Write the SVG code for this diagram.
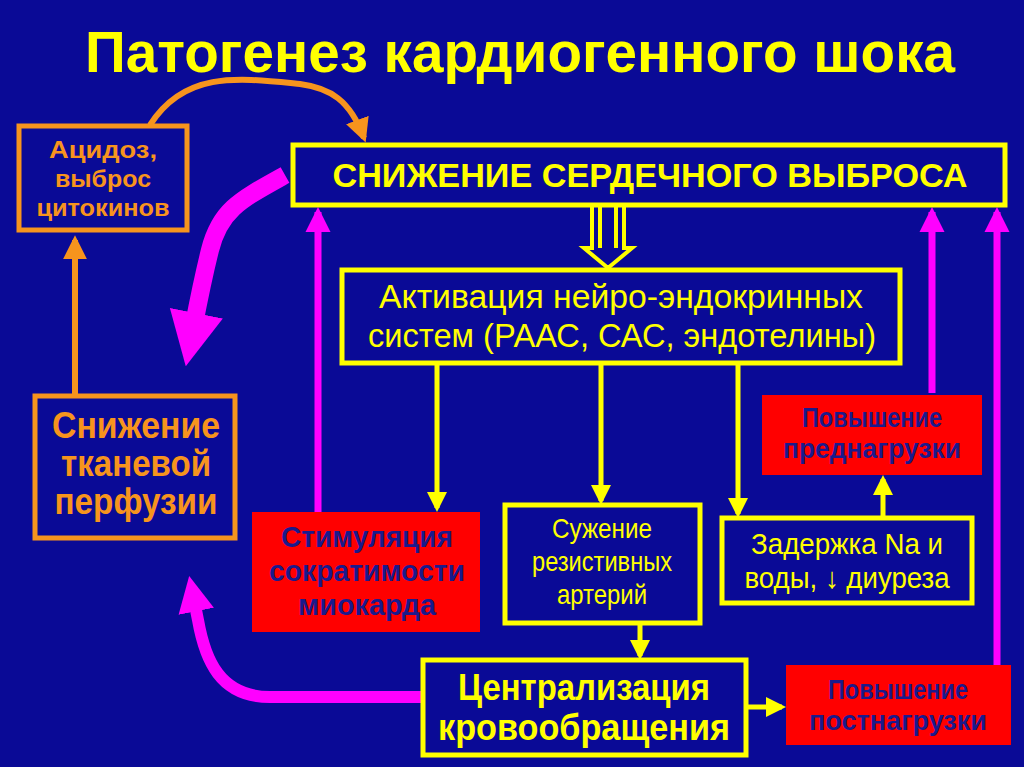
<svg xmlns="http://www.w3.org/2000/svg" width="1024" height="767" viewBox="0 0 1024 767">
<defs>
<style>
text{font-family:"Liberation Sans",Arial,sans-serif;text-anchor:middle}
.yb{fill:#0a0a96;stroke:#ffff00;stroke-width:5}
.ob{fill:#0a0a96;stroke:#f7941d;stroke-width:5}
.rb{fill:#ff0000}
.y{fill:#ffff00}
.o{fill:#f7941d;font-weight:bold}
.n{fill:#1a1a8c;font-weight:bold}
.ly{stroke:#ffff00;stroke-width:5;fill:none}
.lm{stroke:#ff00ff;fill:none}
.lo{stroke:#f7941d;stroke-width:6;fill:none}
</style>
<marker id="ay" viewBox="0 0 10 10" refX="8" refY="5" markerWidth="4" markerHeight="4" orient="auto" markerUnits="strokeWidth"><path d="M0,0 L10,5 L0,10 z" fill="#ffff00"/></marker>
<marker id="am" viewBox="0 0 10 10" refX="8" refY="5" markerWidth="3.6" markerHeight="3.6" orient="auto" markerUnits="strokeWidth"><path d="M0,0 L10,5 L0,10 z" fill="#ff00ff"/></marker>
<marker id="amb" viewBox="0 0 10 10" refX="6" refY="5" markerWidth="3" markerHeight="3.4" orient="auto" markerUnits="strokeWidth"><path d="M0,0 L10,5 L0,10 z" fill="#ff00ff"/></marker>
<marker id="ao" viewBox="0 0 10 10" refX="8" refY="5" markerWidth="4" markerHeight="4" orient="auto" markerUnits="strokeWidth"><path d="M0,0 L10,5 L0,10 z" fill="#f7941d"/></marker>
</defs>
<rect width="1024" height="767" fill="#0a0a96"/>
<text x="520" y="72" font-size="58" font-weight="bold" class="y" textLength="870" lengthAdjust="spacingAndGlyphs">Патогенез кардиогенного шока</text>

<g id="connectors">
<path class="lo" d="M150,125 C185,70 240,78 300,84 C330,88 350,100 364,138" marker-end="url(#ao)"/>
<path class="lo" d="M75,395 V240" marker-end="url(#ao)"/>
<path class="lm" stroke-width="18" d="M285,175 C240,200 220,210 210,250 C200,290 195,320 190,345" marker-end="url(#amb)"/>
<path class="lm" stroke-width="7" d="M318,512 V212" marker-end="url(#am)"/>
<path class="lm" stroke-width="7" d="M932,393 V212" marker-end="url(#am)"/>
<path class="lm" stroke-width="7" d="M997,665 V212" marker-end="url(#am)"/>
<path class="lm" stroke-width="12" d="M423,697 H270 C220,697 205,660 198,620 L192,590" marker-end="url(#amb)"/>
<path d="M592,205 V248 H584 L608,268 L632,248 H624 V205 M600,205 V248 M616,205 V248" fill="none" stroke="#ffff00" stroke-width="4"/>
<path class="ly" d="M437,363 V508" marker-end="url(#ay)"/>
<path class="ly" d="M601,363 V501" marker-end="url(#ay)"/>
<path class="ly" d="M738,363 V514" marker-end="url(#ay)"/>
<path class="ly" d="M883,518 V479" marker-end="url(#ay)"/>
<path class="ly" d="M640,623 V656" marker-end="url(#ay)"/>
<path class="ly" d="M746,707 H782" marker-end="url(#ay)"/>
</g>

<g id="acidosis"><rect class="ob" x="19" y="126" width="168" height="104"/>
<text class="o" font-size="24" x="103" y="158" textLength="108" lengthAdjust="spacingAndGlyphs">Ацидоз,</text><text class="o" font-size="24" x="103" y="187" textLength="96" lengthAdjust="spacingAndGlyphs">выброс</text><text class="o" font-size="24" x="103" y="216" textLength="133" lengthAdjust="spacingAndGlyphs">цитокинов</text></g>

<g id="co"><rect class="yb" x="293" y="145" width="712" height="60"/>
<text class="y" font-size="34" font-weight="bold" x="650" y="187" textLength="635" lengthAdjust="spacingAndGlyphs">СНИЖЕНИЕ СЕРДЕЧНОГО ВЫБРОСА</text></g>

<g id="activation"><rect class="yb" x="342" y="270" width="558" height="93"/>
<text class="y" font-size="33" x="621" y="308" textLength="484" lengthAdjust="spacingAndGlyphs">Активация нейро-эндокринных</text>
<text class="y" font-size="33" x="622" y="347" textLength="508" lengthAdjust="spacingAndGlyphs">систем (РААС, САС, эндотелины)</text></g>

<g id="perfusion"><rect class="ob" x="35" y="396" width="200" height="142"/>
<text class="o" font-size="36" x="136" y="438" textLength="168" lengthAdjust="spacingAndGlyphs">Снижение</text><text class="o" font-size="36" x="136" y="476" textLength="150" lengthAdjust="spacingAndGlyphs">тканевой</text><text class="o" font-size="36" x="136" y="514" textLength="163" lengthAdjust="spacingAndGlyphs">перфузии</text></g>

<g id="stim"><rect class="rb" x="252" y="512" width="228" height="120"/>
<text class="n" font-size="29" x="367" y="547" textLength="172" lengthAdjust="spacingAndGlyphs">Стимуляция</text><text class="n" font-size="29" x="367" y="581" textLength="196" lengthAdjust="spacingAndGlyphs">сократимости</text><text class="n" font-size="29" x="367" y="615" textLength="138" lengthAdjust="spacingAndGlyphs">миокарда</text></g>

<g id="narrow"><rect class="yb" x="505" y="505" width="195" height="118"/>
<text class="y" font-size="28" x="602" y="538" textLength="100" lengthAdjust="spacingAndGlyphs">Сужение</text><text class="y" font-size="28" x="602" y="571" textLength="140" lengthAdjust="spacingAndGlyphs">резистивных</text><text class="y" font-size="28" x="602" y="604" textLength="90" lengthAdjust="spacingAndGlyphs">артерий</text></g>

<g id="na"><rect class="yb" x="722" y="518" width="250" height="85"/>
<text class="y" font-size="29" x="847" y="554" textLength="192" lengthAdjust="spacingAndGlyphs">Задержка Na и</text><text class="y" font-size="29" x="847" y="588" textLength="205" lengthAdjust="spacingAndGlyphs">воды, ↓ диуреза</text></g>

<g id="preload"><rect class="rb" x="762" y="395" width="220" height="80"/>
<text class="n" font-size="28" x="872" y="427" textLength="140" lengthAdjust="spacingAndGlyphs">Повышение</text><text class="n" font-size="28" x="872" y="458" textLength="178" lengthAdjust="spacingAndGlyphs">преднагрузки</text></g>

<g id="central"><rect class="yb" x="423" y="660" width="323" height="95"/>
<text class="y" font-size="36" font-weight="bold" x="584" y="700" textLength="252" lengthAdjust="spacingAndGlyphs">Централизация</text><text class="y" font-size="36" font-weight="bold" x="584" y="740" textLength="292" lengthAdjust="spacingAndGlyphs">кровообращения</text></g>

<g id="afterload"><rect class="rb" x="786" y="665" width="225" height="80"/>
<text class="n" font-size="28" x="898" y="699" textLength="140" lengthAdjust="spacingAndGlyphs">Повышение</text><text class="n" font-size="28" x="898" y="730" textLength="178" lengthAdjust="spacingAndGlyphs">постнагрузки</text></g>
</svg>
